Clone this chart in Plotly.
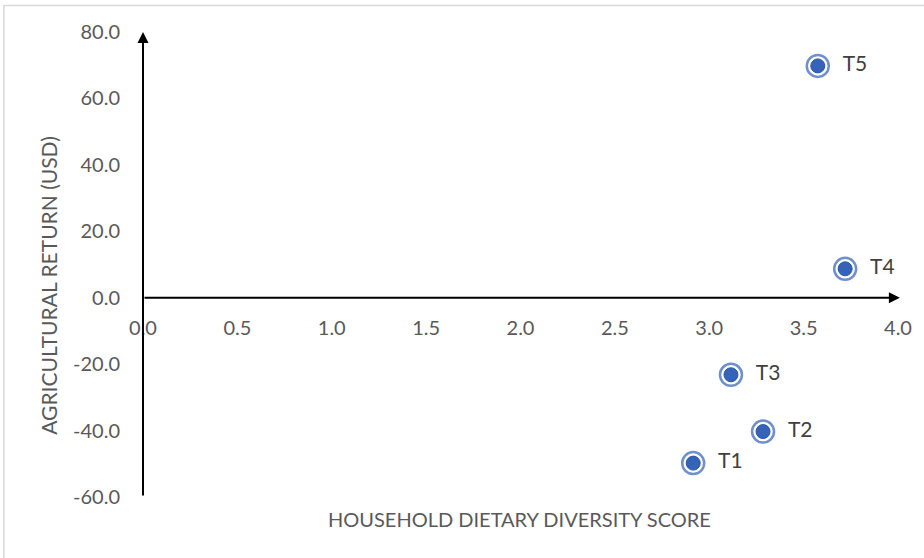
import plotly.graph_objects as go

# Treatment results: dietary diversity score vs agricultural return
treatments = ["T1", "T2", "T3", "T4", "T5"]
hdds = [2.915, 3.285, 3.115, 3.72, 3.575]
returns_usd = [-49.8, -40.3, -23.2, 8.7, 69.8]

x_ticks = [0.0, 0.5, 1.0, 1.5, 2.0, 2.5, 3.0, 3.5, 4.0]
y_ticks = [-60.0, -40.0, -20.0, 0.0, 20.0, 40.0, 60.0, 80.0]
x_range = [0, 4.0]
y_range = [-60, 80]

FONT = "Lato"
TEXT_COLOR = "#595959"
SIZE = 20

fig = go.Figure()

# outer ring of each marker, carrying the point label
fig.add_trace(go.Scatter(
    x=hdds, y=returns_usd, mode="markers+text",
    text=["  " + t for t in treatments], textposition="middle right",
    textfont=dict(family=FONT, size=SIZE + 1, color="#404040"),
    marker=dict(size=22, color="white", line=dict(color="#6F8FCD", width=2.5)),
    hoverinfo="skip", showlegend=False,
))
# inner filled dot
fig.add_trace(go.Scatter(
    x=hdds, y=returns_usd, mode="markers",
    marker=dict(size=14, color="#3563BA", line=dict(color="#2B56A8", width=1)),
    showlegend=False,
))

zero_pos = (0 - y_range[0]) / (y_range[1] - y_range[0])

fig.update_layout(
    width=924, height=558,
    margin=dict(l=143, r=24, t=32, b=61),
    paper_bgcolor="white", plot_bgcolor="white",
    font=dict(family=FONT, color=TEXT_COLOR),
    xaxis=dict(
        range=x_range, tickvals=x_ticks,
        ticktext=[f"{v:.1f}" for v in x_ticks],
        showgrid=False, zeroline=False, showline=False,
        anchor="free", position=zero_pos,
        ticks="", ticklabelstandoff=16,
        tickfont=dict(family=FONT, size=SIZE, color=TEXT_COLOR),
    ),
    yaxis=dict(
        range=y_range, tickvals=y_ticks,
        ticktext=[f"{v:.1f}" for v in y_ticks],
        showgrid=False, zeroline=False, showline=False,
        ticks="", ticklabelstandoff=22,
        tickfont=dict(family=FONT, size=SIZE, color=TEXT_COLOR),
    ),
)

# axes drawn as arrows
fig.add_annotation(x=0, y=y_range[1], ax=0, ay=y_range[0],
                   xref="x", yref="y", axref="x", ayref="y",
                   showarrow=True, arrowhead=2, arrowsize=1.1, arrowwidth=2,
                   arrowcolor="black", text="")
fig.add_annotation(x=4.01, y=0, ax=0, ay=0,
                   xref="x", yref="y", axref="x", ayref="y",
                   showarrow=True, arrowhead=2, arrowsize=1.1, arrowwidth=2,
                   arrowcolor="black", text="")

# axis titles
fig.add_annotation(text="HOUSEHOLD DIETARY DIVERSITY SCORE",
                   xref="paper", yref="paper", x=(520 - 143) / 757, y=(497 - 533) / 465,
                   showarrow=False, font=dict(family=FONT, size=SIZE, color=TEXT_COLOR))
fig.add_annotation(text="AGRICULTURAL RETURN (USD)", textangle=-90,
                   xref="paper", yref="paper", x=(33 - 143) / 757, y=(497 - 285) / 465,
                   showarrow=False, font=dict(family=FONT, size=SIZE + 1, color=TEXT_COLOR))

# chart frame
fig.add_shape(type="rect", xref="paper", yref="paper",
              x0=(3.5 - 143) / 757, x1=(940 - 143) / 757,
              y0=(497 - 580) / 465, y1=(497 - 5.5) / 465,
              line=dict(color="#D9D9D9", width=1.5), layer="below")

fig.write_html("out.html")
